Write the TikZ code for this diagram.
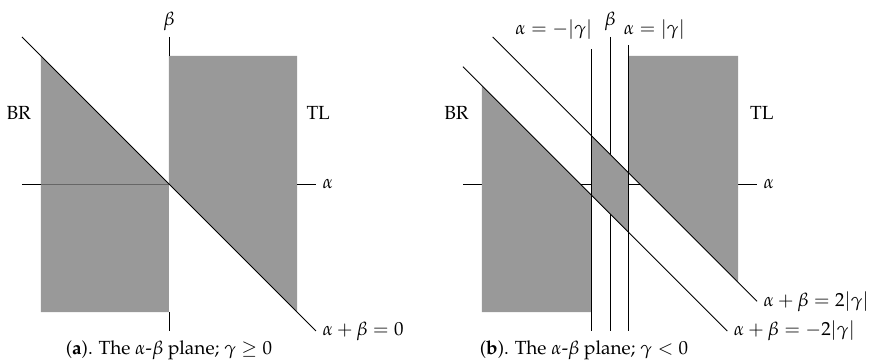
\documentclass[tikz,border=0pt]{standalone}
\usepackage[T1]{fontenc}
\usepackage{mathpazo}
\tikzset{
  grey region/.style={
    fill=black!40, draw=none
  },
  axis line/.style={
    draw=black, line width=0.4pt
  },
  plane line/.style={
    draw=black, line width=0.45pt
  }
}

\begin{document}
\begin{tikzpicture}
\useasboundingbox (-3.127,-3.293) rectangle (13.23,3.404);
% ------------------------------------------------
% 左图：gamma >= 0
% ------------------------------------------------
\begin{scope}
  \coordinate (aO)  at ( 0.00, 0.00);
  \coordinate (aW)  at (-2.72, 0.00);
  \coordinate (aWr) at (-2.37, 0.00);
  \coordinate (aE)  at ( 2.72, 0.00);
  \coordinate (aN)  at ( 0.00, 2.72);
  \coordinate (aS)  at ( 0.00,-2.72);
  \coordinate (aEr) at ( 2.37, 0.00);
  \coordinate (aNr) at ( 0.00, 2.37);
  \coordinate (aSr) at ( 0.00,-2.37);
  \coordinate (aDT) at (-2.72, 2.72);
  \coordinate (aDB) at ( 2.72,-2.72);

  \fill[grey region] (-2.37,2.37) -- (aO) -- (aSr) -- (-2.37,-2.37) -- cycle;
  \fill[grey region] (aNr) -- (2.37,2.37) -- (2.37,-2.37) -- (aO) -- cycle;

  \draw[axis line] (aW)  -- (aWr);
  \draw[axis line, draw=black!60] (aWr) -- (aO);
  \draw[axis line] (aEr) -- (aE);
  \draw[axis line] (aN)  -- (aNr);
  \draw[axis line] (aSr) -- (aS);
  \draw[plane line] (aDT) -- (aDB);

  \node[anchor=south] (aBeta)  at (aN)  {$\beta$};
  \node[right]        (aAlpha) at (aE)  {$\alpha$};
  \node[right]        (aSum)   at (aDB) {$\alpha+\beta=0$};
  \node (aBR) at (-2.78,1.31) {BR};
  \node (aTL) at ( 2.76,1.31) {TL};
  \node[anchor=base] (aCap) at (0,-3.15)
    {(\textbf{a}). The $\alpha$-$\beta$ plane; $\gamma\geq 0$};
\end{scope}

% ------------------------------------------------
% 右图：gamma < 0
% ------------------------------------------------
\begin{scope}[shift={(8.16,0)}]
  \coordinate (bW)  at (-2.72, 0.00);
  \coordinate (bE)  at ( 2.72, 0.00);
  \coordinate (bN)  at ( 0.00, 2.72);
  \coordinate (bS)  at ( 0.00,-2.72);
  \coordinate (bLT) at (-0.34, 2.49);
  \coordinate (bLB) at (-0.34,-2.72);
  \coordinate (bRT) at ( 0.34, 2.57);
  \coordinate (bRB) at ( 0.34,-2.72);
  \coordinate (bUT) at (-2.17, 2.72);
  \coordinate (bUB) at ( 2.72,-2.17);
  \coordinate (bDT) at (-2.72, 2.17);
  \coordinate (bDB) at ( 2.17,-2.72);

  \draw[axis line] (bW) -- (bE);
  \draw[axis line] (bN) -- (bS);

  \fill[grey region] (-2.37,-2.37) -- (-0.34,-2.37) -- (-0.34,-0.21) -- (-2.37,1.82) -- cycle;
  \fill[grey region] (-0.34,0.89) -- (-0.34,-0.21) -- (0.34,-0.89) -- (0.34,0.21) -- cycle;
  \fill[grey region] (0.34,2.37) -- (2.37,2.37) -- (2.37,-1.82) -- (0.34,0.21) -- cycle;

  \draw[plane line] (bLT) -- (bLB);
  \draw[plane line] (bRT) -- (bRB);
  \draw[plane line] (bUT) -- (bUB);
  \draw[plane line] (bDT) -- (bDB);

  \node[anchor=south] (bBeta)  at (bN)  {$\beta$};
  \node[right]        (bAlpha) at (bE)  {$\alpha$};
  \node[anchor=base]  (bNeg)   at (-1.04,2.76) {$\alpha=-|\gamma|$};
  \node[anchor=base]  (bPos)   at ( 0.82,2.76) {$\alpha=|\gamma|$};
  \node[right]        (bSumU)  at (bUB) {$\alpha+\beta=2|\gamma|$};
  \node[right]        (bSumD)  at (bDB) {$\alpha+\beta=-2|\gamma|$};
  \node (bBR) at (-2.84,1.31) {BR};
  \node (bTL) at ( 2.81,1.31) {TL};
  \node[anchor=base] (bCap) at (-0.48,-3.15)
    {(\textbf{b}). The $\alpha$-$\beta$ plane; $\gamma<0$};
\end{scope}
\end{tikzpicture}
\end{document}
